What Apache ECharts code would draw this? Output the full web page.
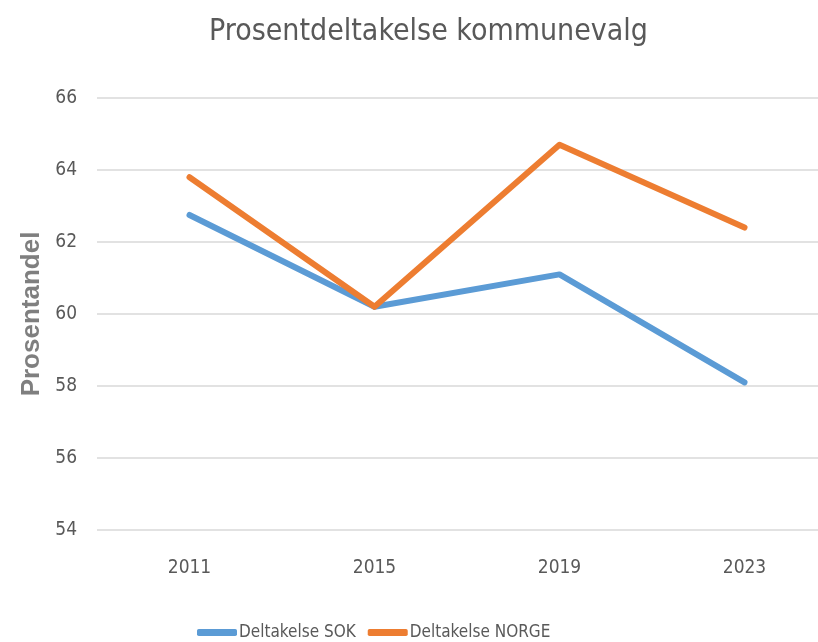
<!DOCTYPE html>
<html>
<head>
<meta charset="utf-8">
<script src="https://cdn.jsdelivr.net/npm/echarts@6/dist/echarts.min.js"></script>
<style>
  html, body { margin: 0; padding: 0; background: #fff; }
  #chart { width: 818px; height: 642px; }
</style>
</head>
<body>
<div id="chart"></div>
<script>
const years = ['2011', '2015', '2019', '2023']
const sokValues = [62.75, 60.2, 61.1, 58.1]
const norgeValues = [63.8, 60.2, 64.7, 62.4]
const yTicks = { min: 54, max: 66, step: 2 }

const narrow = "'DejaVu Sans Condensed', 'Liberation Sans Narrow', sans-serif"
const textColor = '#595959'

const renderLineChart = () => {
  var myChart = echarts.init(document.getElementById('chart'))
  var option = {
    animation: false,
    title: {
      text: 'Prosentdeltakelse kommunevalg',
      left: 204,
      top: 12,
      textStyle: { fontFamily: narrow, fontSize: 30, fontWeight: 'normal', color: textColor }
    },
    legend: {
      bottom: -4,
      left: 192,
      icon: 'roundRect',
      itemWidth: 40,
      itemHeight: 7,
      itemGap: 12,
      textStyle: { fontFamily: narrow, fontSize: 17, color: textColor, padding: [0, 0, 0, -3] },
      data: ['Deltakelse SOK', 'Deltakelse NORGE']
    },
    grid: { left: 97, width: 740, top: 98, bottom: 112, outerBoundsMode: 'none' },
    xAxis: {
      type: 'category',
      data: years,
      axisLine: { show: false },
      axisTick: { show: false },
      axisLabel: { fontFamily: narrow, fontSize: 19, color: textColor, margin: 29 }
    },
    yAxis: {
      type: 'value',
      min: yTicks.min,
      max: yTicks.max,
      interval: yTicks.step,
      name: 'Prosentandel',
      nameLocation: 'middle',
      nameGap: 50,
      nameTextStyle: { fontFamily: "'Liberation Sans', Arial, sans-serif", fontSize: 26, fontWeight: 'bold', color: '#7f7f7f' },
      axisLabel: { fontFamily: narrow, fontSize: 19, color: textColor, margin: 20 },
      splitLine: { lineStyle: { color: '#d9d9d9', width: 1.5 } }
    },
    series: [
      {
        name: 'Deltakelse SOK',
        type: 'line',
        data: sokValues,
        showSymbol: false,
        itemStyle: { color: '#5b9bd5' },
        lineStyle: { width: 6, cap: 'round', join: 'round' }
      },
      {
        name: 'Deltakelse NORGE',
        type: 'line',
        data: norgeValues,
        showSymbol: false,
        itemStyle: { color: '#ed7d31' },
        lineStyle: { width: 6, cap: 'round', join: 'round' }
      }
    ]
  }
  myChart.setOption(option)
}

document.addEventListener('DOMContentLoaded', function () {
  renderLineChart()
})
</script>
</body>
</html>
